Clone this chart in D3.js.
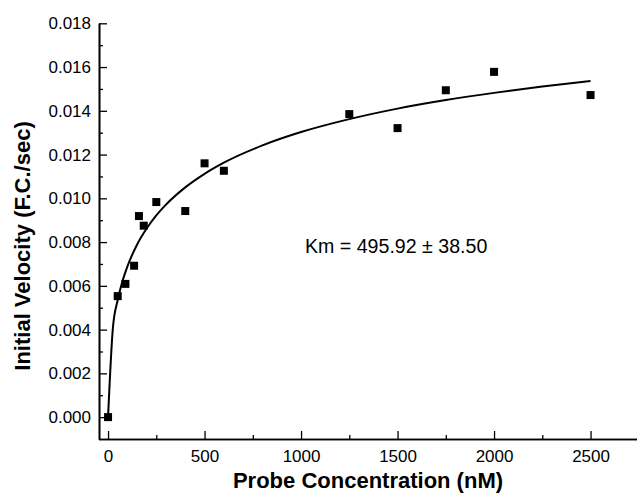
<!DOCTYPE html>
<head>
  <script src="https://d3js.org/d3.v7.min.js"></script>
  <style>
    body { margin: 0; background: #fff; }
    text { font-family: "Liberation Sans", Arial, sans-serif; }
  </style>
</head>
<body>

<svg width="637" height="501"></svg>

<script>
  // measured points
  const concentration = [0, 50, 90, 135, 160, 185, 250, 400, 500, 600, 1250, 1500, 1750, 2000, 2500];
  const velocity = [0.0000, 0.00553, 0.00609, 0.00692, 0.00919, 0.00875, 0.00983, 0.00942, 0.01160, 0.01126, 0.01385, 0.01321, 0.01494, 0.01578, 0.01472];

  // fitted curve
  const fitX = [0, 25, 50, 75, 100, 150, 200, 250, 300, 400, 500, 600, 800, 1000, 1250, 1500, 1750, 2000, 2250, 2500];
  const fitY = [0, 0.00407, 0.00535, 0.00622, 0.00688, 0.00788, 0.00862, 0.00922, 0.00971, 0.01050, 0.01112, 0.01163,
                0.01242, 0.01303, 0.01362, 0.01410, 0.01449, 0.01482, 0.01511, 0.01536];

  const xMajor = [0, 500, 1000, 1500, 2000, 2500];
  const xMinor = [250, 750, 1250, 1750, 2250];
  const yMajor = [0, 0.002, 0.004, 0.006, 0.008, 0.010, 0.012, 0.014, 0.016, 0.018];
  const yMinor = [0.001, 0.003, 0.005, 0.007, 0.009, 0.011, 0.013, 0.015, 0.017];

  const kmLabel = "Km = 495.92 \u00b1 38.50";

  const svg = d3.select("svg");

  const xScale = d3.scaleLinear()
    .domain([-50, 2750])
    .range([98.4, 638.8]);

  const yScale = d3.scaleLinear()
    .domain([-0.001, 0.018])
    .range([439, 23.3]);

  // curve
  const line = d3.line()
    .x((d, i) => xScale(fitX[i]))
    .y(d => yScale(d))
    .curve(d3.curveMonotoneX);

  svg.append("path")
    .datum(fitY)
    .attr("d", line)
    .attr("fill", "none")
    .attr("stroke", "black")
    .attr("stroke-width", 2);

  // points
  svg.selectAll("rect.pt")
    .data(concentration)
    .enter().append("rect")
    .attr("class", "pt")
    .attr("x", d => xScale(d) - 4)
    .attr("y", (d, i) => yScale(velocity[i]) - 4)
    .attr("width", 8)
    .attr("height", 8)
    .attr("fill", "black");

  //axes
  const xAxis = svg.append("g")
    .attr("transform", "translate(0,439)")
    .call(d3.axisBottom(xScale).tickValues(xMajor).tickSizeInner(-8).tickSizeOuter(0).tickPadding(11).tickFormat(d3.format("d")));
  svg.append("g")
    .attr("transform", "translate(0,439)")
    .call(d3.axisBottom(xScale).tickValues(xMinor).tickSizeInner(-4).tickSizeOuter(0).tickFormat(""));

  const yAxis = svg.append("g")
    .attr("transform", "translate(99,0)")
    .call(d3.axisLeft(yScale).tickValues(yMajor).tickSizeInner(-8).tickSizeOuter(0).tickPadding(8).tickFormat(d3.format(".3f")));
  svg.append("g")
    .attr("transform", "translate(99,0)")
    .call(d3.axisLeft(yScale).tickValues(yMinor).tickSizeInner(-4).tickSizeOuter(0).tickFormat(""));

  svg.selectAll(".domain").attr("stroke-width", 1.6);
  svg.selectAll(".tick line").attr("stroke-width", 1.3);
  svg.selectAll(".tick text")
    .attr("font-family", "'Liberation Sans', Arial, sans-serif")
    .attr("font-size", 17)
    .attr("fill", "black");

  svg.append("text")
    .attr("x", 368)
    .attr("y", 488)
    .attr("text-anchor", "middle")
    .attr("font-size", 22)
    .attr("font-weight", "bold")
    .text("Probe Concentration (nM)");

  svg.append("text")
    .attr("transform", "translate(30,246) rotate(-90)")
    .attr("text-anchor", "middle")
    .attr("font-size", 22)
    .attr("font-weight", "bold")
    .text("Initial Velocity (F.C./sec)");

  svg.append("text")
    .attr("x", 305)
    .attr("y", 253)
    .attr("font-size", 19.6)
    .text(kmLabel);
</script>

</body>
</html>
